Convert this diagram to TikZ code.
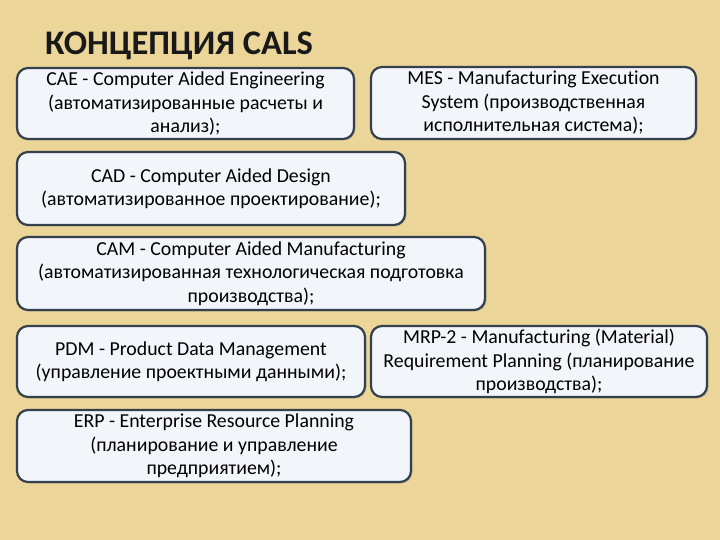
\documentclass[tikz,border=0pt]{standalone}
\usepackage{fontspec}
\setmainfont{Carlito}[Ligatures=NoCommon]
\usetikzlibrary{shadows}
\definecolor{parchment}{HTML}{EBD598}
\definecolor{boxfill}{HTML}{F2F5FA}
\definecolor{boxline}{HTML}{34404E}
\tikzset{
  termbox/.style={draw=boxline, line width=2.2pt, fill=boxfill, rounded corners=11pt,
    align=center, inner sep=0pt, font=\fontsize{19.8}{23.5}\selectfont,
    drop shadow={shadow xshift=1.5pt, shadow yshift=-1.5pt, opacity=0.25}},
}
\begin{document}
\begin{tikzpicture}[x=1pt,y=-1pt]
  \fill[parchment] (0,0) rectangle (720,540);
  \useasboundingbox (0,0) rectangle (720,540);
  \node[anchor=base west, inner sep=0pt, text=black!90, font=\fontsize{34.5}{40}\selectfont\bfseries] (title) at (45,55) {КОНЦЕПЦИЯ CALS};
  % left column
  \node[termbox, minimum width=337pt, minimum height=71pt] (cae) at (185.5,103.5)
    {CAE - Computer Aided Engineering\\(автоматизированные расчеты и\\анализ);};
  \node[termbox, minimum width=325pt, minimum height=72pt] (mes) at (533.5,103)
    {MES - Manufacturing Execution\\System (производственная\\исполнительная система);};
  \node[termbox, minimum width=388pt, minimum height=73pt] (cad) at (211,188.5)
    {CAD - Computer Aided Design\\(автоматизированное проектирование);};
  \node[termbox, minimum width=468pt, minimum height=73pt] (cam) at (251,273.5)
    {CAM - Computer Aided Manufacturing\\(автоматизированная технологическая подготовка\\производства);};
  \node[termbox, minimum width=348pt, minimum height=71pt] (pdm) at (191,361.5)
    {PDM - Product Data Management\\(управление проектными данными);};
  \node[termbox, minimum width=336pt, minimum height=71pt] (mrp) at (539,361.5)
    {MRP-2 - Manufacturing (Material)\\Requirement Planning (планирование\\производства);};
  \node[termbox, minimum width=394pt, minimum height=72pt] (erp) at (214,446)
    {ERP - Enterprise Resource Planning\\(планирование и управление\\предприятием);};
\end{tikzpicture}
\end{document}
